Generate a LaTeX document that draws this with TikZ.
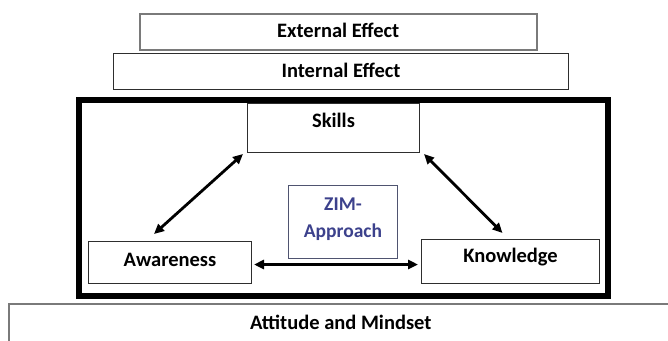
\documentclass[tikz,border=0pt]{standalone}
\usepackage{fontspec}
\setmainfont{Carlito}
\usetikzlibrary{arrows.meta,calc}
\definecolor{zimtext}{HTML}{3C418C}
\definecolor{zimframe}{HTML}{4F5470}
\definecolor{boxgray}{HTML}{7A7A7A}
\definecolor{boxdark}{HTML}{2E2E2E}
\tikzset{
  labeltext/.style={font=\fontsize{20.5}{24}\selectfont\bfseries, text=black},
  box/.style={draw=boxdark, line width=1pt, fill=white, inner sep=0pt, anchor=north west},
  graybox/.style={box, draw=boxgray, line width=1.5pt},
  zimbox/.style={draw=zimframe, line width=1pt, inner sep=0pt, anchor=north west},
  zimlabel/.style={font=\fontsize{19.5}{27}\selectfont\bfseries, text=zimtext, align=center},
  frame/.style={draw=black, line width=5.5pt},
  twoway/.style={line width=2.8pt, {Triangle[length=10pt,width=9pt]}-{Triangle[length=10pt,width=9pt]}}
}
\begin{document}
\begin{tikzpicture}[x=1pt, y=-1pt]
\useasboundingbox (0,0) rectangle (668,340);

% effect layers above the approach frame
\node[graybox, minimum width=397pt, minimum height=36pt] (ext) at (139,13) {};
\node[labeltext] (extt) at ($(ext.center)+(0,-1)$) {External Effect};
\node[box, minimum width=455pt, minimum height=36pt] (int) at (113,53) {};
\node[labeltext] (intt) at ($(int.center)+(0,-1)$) {Internal Effect};

% thick frame around the three competences
\node[frame, minimum width=529pt, minimum height=196pt, anchor=north west] (fr) at (76,97) {};

% competence boxes
\node[box, minimum width=172pt, minimum height=49pt] (skills) at (247,103) {};
\node[labeltext] (skillst) at ($(skills.north)+(0,17)$) {Skills};
\node[box, minimum width=163pt, minimum height=42pt] (aware) at (88,241) {};
\node[labeltext] (awaret) at ($(aware.center)+(0,-3)$) {Awareness};
\node[box, minimum width=178pt, minimum height=44pt] (know) at (421,239) {};
\node[labeltext] (knowt) at ($(know.center)+(0,-4)$) {Knowledge};

% centre label
\node[zimbox, minimum width=109pt, minimum height=73pt] (zim) at (288,185) {};
\node[zimlabel] (zimt) at ($(zim.center)+(0,-3)$) {ZIM-\\Approach};

% base layer
\node[graybox, minimum width=664pt, minimum height=38pt] (base) at (8,303) {};
\node[labeltext] (baset) at ($(base.center)+(0,0)$) {Attitude and Mindset};

% two-way connectors
\draw[twoway] ($(aware.north)+(-16,-7)$) -- ($(skills.south west)+(-4,1)$);
\draw[twoway] ($(know.north)+(-8,-6)$) -- ($(skills.south east)+(4,1)$);
\draw[twoway] ($(aware.east)+(2,2)$) -- ($(know.west)+(-3,3)$);
\end{tikzpicture}
\end{document}
